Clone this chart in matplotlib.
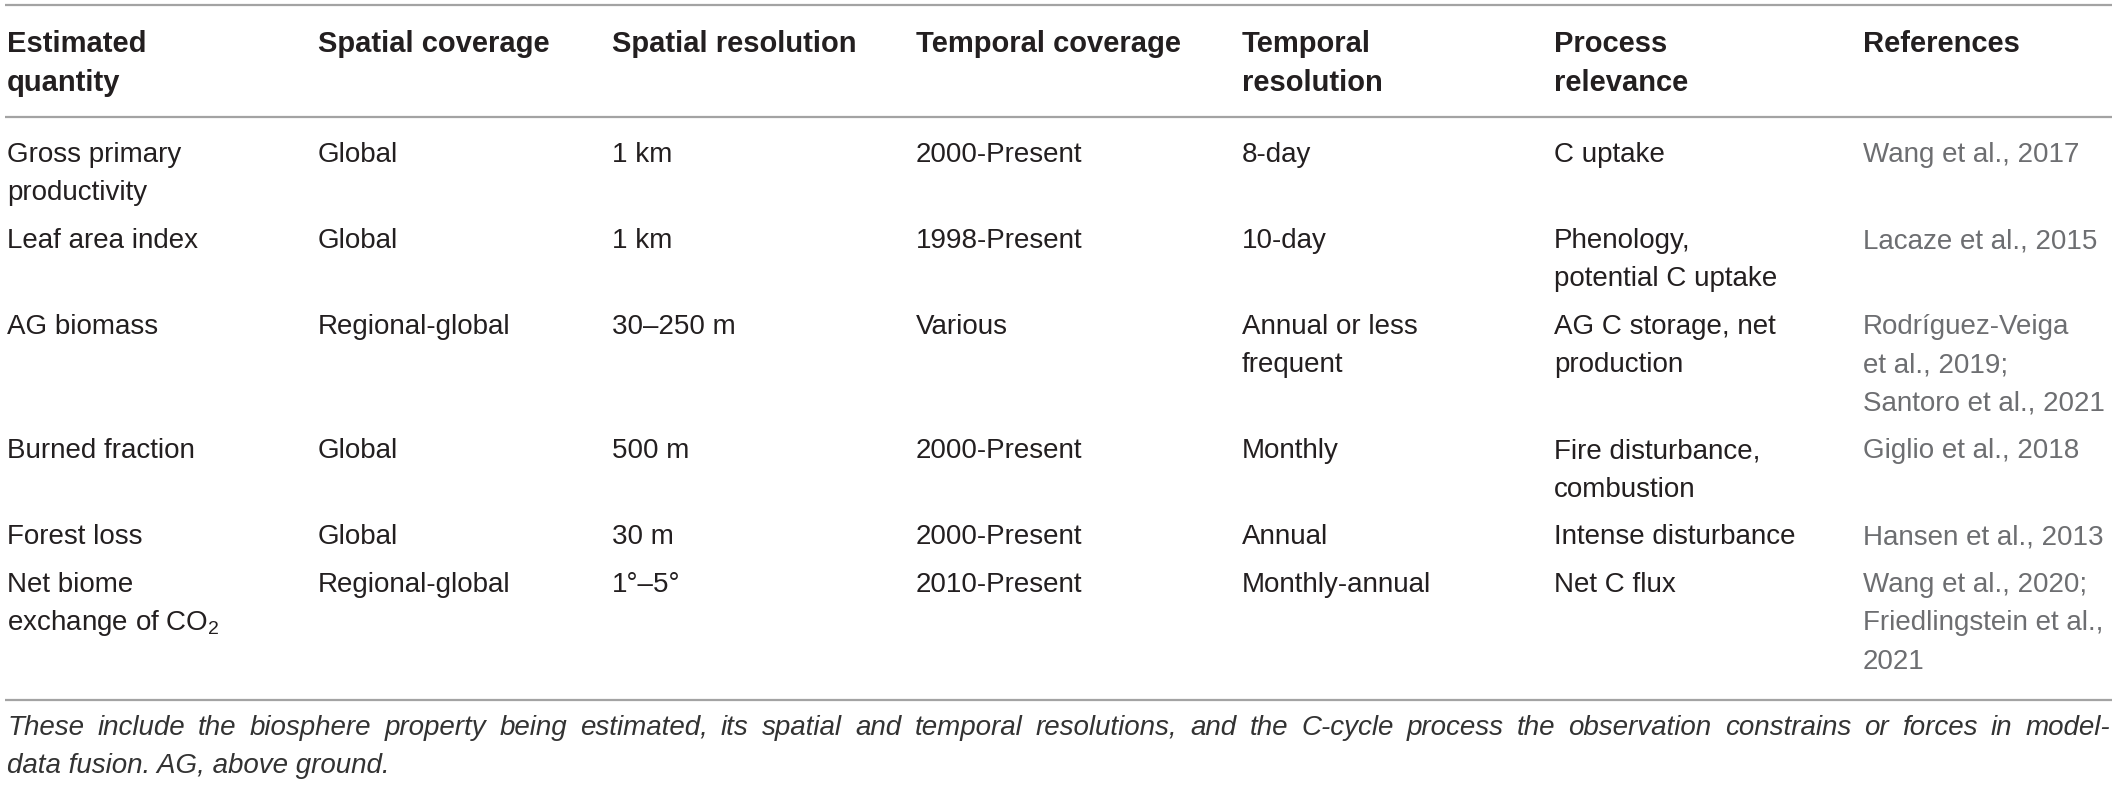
import matplotlib
matplotlib.use("Agg")
import matplotlib.pyplot as plt

plt.rcParams['font.family'] = ['Liberation Sans', 'DejaVu Sans']
plt.rcParams['mathtext.fontset'] = 'custom'
plt.rcParams['mathtext.rm'] = 'Liberation Sans'
plt.rcParams['mathtext.it'] = 'Liberation Sans:italic'

# ---- table content ----
headers = ["Estimated\nquantity", "Spatial coverage", "Spatial resolution",
           "Temporal coverage", "Temporal\nresolution", "Process\nrelevance", "References"]
quantities = ["Gross primary\nproductivity", "Leaf area index", "AG biomass",
              "Burned fraction", "Forest loss", "Net biome\nexchange of CO$_2$"]
spatial_coverage = ["Global", "Global", "Regional-global", "Global", "Global", "Regional-global"]
spatial_resolution = ["1 km", "1 km", "30–250 m", "500 m", "30 m", "1°–5°"]
temporal_coverage = ["2000-Present", "1998-Present", "Various", "2000-Present",
                     "2000-Present", "2010-Present"]
temporal_resolution = ["8-day", "10-day", "Annual or less\nfrequent", "Monthly", "Annual",
                       "Monthly-annual"]
process_relevance = ["C uptake", "Phenology,\npotential C uptake", "AG C storage, net\nproduction",
                     "Fire disturbance,\ncombustion", "Intense disturbance", "Net C flux"]
references = ["Wang et al., 2017", "Lacaze et al., 2015",
              "Rodríguez-Veiga\net al., 2019;\nSantoro et al., 2021",
              "Giglio et al., 2018", "Hansen et al., 2013",
              "Wang et al., 2020;\nFriedlingstein et al.,\n2021"]
caption_line1 = ("These include the biosphere property being estimated, its spatial and temporal "
                 "resolutions, and the C-cycle process the observation constrains or forces in model-")
caption_line2 = "data fusion. AG, above ground."

columns = [quantities, spatial_coverage, spatial_resolution, temporal_coverage,
           temporal_resolution, process_relevance, references]

# ---- layout ----
W, H = 2118, 786
fig = plt.figure(figsize=(W / 100, H / 100), dpi=100)
ax = fig.add_axes([0, 0, 1, 1])
ax.set_xlim(0, W)
ax.set_ylim(H, 0)
ax.axis('off')

col_x = [7, 318, 612, 916, 1242, 1554, 1863]
line_h = 38.5
row_gap = 47.5
body_fs = 20
head_fs = 21
body_color = '#231f20'
ref_color = '#6d6e71'
rule_color = '#a3a3a3'

# rules
for yy in (5, 117, 700):
    ax.plot([5, 2112], [yy, yy], color=rule_color, lw=1.6, solid_capstyle='butt')

# header
for x, h in zip(col_x, headers):
    for k, ln in enumerate(h.split("\n")):
        ax.text(x, 52 + k * 39, ln, fontsize=head_fs, fontweight='bold', color=body_color,
                va='baseline', ha='left')

# body
y = 162
n_rows = len(quantities)
for r in range(n_rows):
    nlines = max(len(col[r].split("\n")) for col in columns)
    for c, col in enumerate(columns):
        color = ref_color if c == len(columns) - 1 else body_color
        for k, ln in enumerate(col[r].split("\n")):
            ax.text(col_x[c], y + k * line_h, ln, fontsize=body_fs, color=color,
                    va='baseline', ha='left')
    y += (nlines - 1) * line_h + row_gap

# caption (first line justified)
cap_color = '#333333'
renderer = fig.canvas.get_renderer()
words = caption_line1.split(" ")
objs = [ax.text(0, 735, w, fontsize=body_fs, style='italic', color=cap_color,
                va='baseline', ha='left') for w in words]
widths_px = [o.get_window_extent(renderer=renderer).width for o in objs]
left, right = 7, 2110
gap = (right - left - sum(widths_px)) / (len(words) - 1)
xx = left
for o, wpx in zip(objs, widths_px):
    o.set_x(xx)
    xx += wpx + gap
ax.text(left, 773, caption_line2, fontsize=body_fs, style='italic', color=cap_color,
        va='baseline', ha='left')

fig.savefig("out.png", dpi=100, facecolor='white')
